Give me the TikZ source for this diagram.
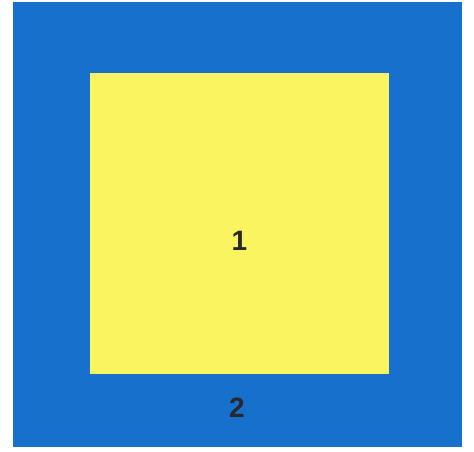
\documentclass[tikz,border=0pt]{standalone}
\usepackage{fontspec}
\setmainfont{Liberation Sans}
\definecolor{outerblue}{RGB}{22,112,204}
\definecolor{inneryellow}{RGB}{250,244,96}
\definecolor{labelgray}{RGB}{40,40,40}
\usepackage{tikz}
\usetikzlibrary{positioning}

\begin{document}
\begin{tikzpicture}[x=0.5pt, y=-0.5pt,
  region/.style={draw=none, inner sep=0pt, outer sep=0pt},
  regionlabel/.style={text=labelgray, font=\fontsize{14}{16}\selectfont\bfseries}]
  \useasboundingbox (0,0) rectangle (474,451);
  % Outer region
  \fill[outerblue] (13,2) rectangle (462,447);
  \coordinate (outer) at (237,408);
  % Inner region
  \fill[inneryellow] (90,73) rectangle (389,374);
  \coordinate (inner) at (239.5,241);
  % Labels
  \node[regionlabel] (lblinner) at (inner) {1};
  \node[regionlabel] (lblouter) at (outer) {2};
\end{tikzpicture}
\end{document}
